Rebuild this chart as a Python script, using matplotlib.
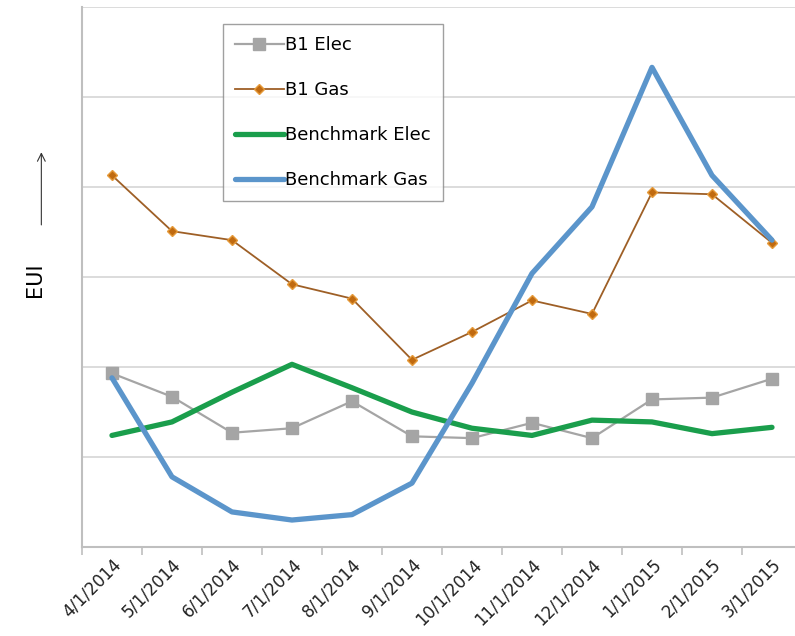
import matplotlib.pyplot as plt

# Monthly EUI, April 2014 to March 2015
months = ['4/1/2014', '5/1/2014', '6/1/2014', '7/1/2014', '8/1/2014', '9/1/2014',
          '10/1/2014', '11/1/2014', '12/1/2014', '1/1/2015', '2/1/2015', '3/1/2015']
b1_elec = [1.93, 1.67, 1.27, 1.32, 1.62, 1.23, 1.21, 1.38, 1.21, 1.64, 1.66, 1.87]
b1_gas = [4.13, 3.51, 3.41, 2.92, 2.76, 2.08, 2.39, 2.74, 2.59, 3.94, 3.92, 3.38]
bench_elec = [1.24, 1.39, 1.72, 2.03, 1.77, 1.50, 1.32, 1.24, 1.41, 1.39, 1.26, 1.33]
bench_gas = [1.88, 0.78, 0.39, 0.30, 0.36, 0.71, 1.82, 3.04, 3.78, 5.33, 4.13, 3.41]

x = list(range(len(months)))

fig = plt.figure(figsize=(7.95, 6.36), dpi=100)
ax = fig.add_axes([0.1031, 0.1399, 0.9057, 0.849])

ax.plot(x, b1_elec, color='#a5a5a5', lw=1.6, marker='s', ms=8,
        mfc='#a5a5a5', mec='#a5a5a5', label='B1 Elec')
ax.plot(x, b1_gas, color='#9e5f26', lw=1.3, marker='D', ms=5.5,
        mfc='#c06a10', mec='#e59a3a', label='B1 Gas')
ax.plot(x, bench_elec, color='#1a9e4c', lw=3.8, solid_capstyle='round',
        label='Benchmark Elec')
ax.plot(x, bench_gas, color='#5b95cb', lw=3.8, solid_capstyle='round',
        label='Benchmark Gas')

ax.set_xlim(-0.5, 11.5)
ax.set_ylim(0, 6)
ax.set_yticks([1, 2, 3, 4, 5, 6])
ax.set_yticklabels([])
ax.tick_params(axis='y', length=0)
ax.yaxis.grid(True, color='#d9d9d9', lw=1.3)
ax.set_axisbelow(True)

# category labels sit at the centres, tick marks at the boundaries
ax.set_xticks(x)
ax.set_xticklabels(months, rotation=45, ha='right', rotation_mode='anchor',
                   fontsize=12, color='#222222')
ax.tick_params(axis='x', length=0, pad=6)
ax.set_xticks([i - 0.5 for i in range(13)], minor=True)
ax.tick_params(axis='x', which='minor', length=6, color='#bfbfbf', width=1.2)

for side in ['top', 'right']:
    ax.spines[side].set_visible(False)
for side in ['left', 'bottom']:
    ax.spines[side].set_color('#bfbfbf')
    ax.spines[side].set_linewidth(1.5)

leg = ax.legend(loc='upper left', bbox_to_anchor=(0.196, 0.968), fontsize=13,
                frameon=True, fancybox=False, edgecolor='#888888',
                handlelength=2.7, handletextpad=0.1, labelspacing=1.5,
                borderpad=0.65, borderaxespad=0)
leg.get_frame().set_linewidth(1.0)

# y label with an arrow pointing upward
fig.text(0.044, 0.56, 'EUI', rotation=90, fontsize=15, ha='center', va='center')
fig.add_artist(plt.Annotation('', xy=(0.052, 0.765), xytext=(0.052, 0.642),
                              xycoords='figure fraction', textcoords='figure fraction',
                              arrowprops=dict(arrowstyle='->', color='#333333',
                                              lw=0.8, mutation_scale=14)))

fig.savefig('out.png', dpi=100)
